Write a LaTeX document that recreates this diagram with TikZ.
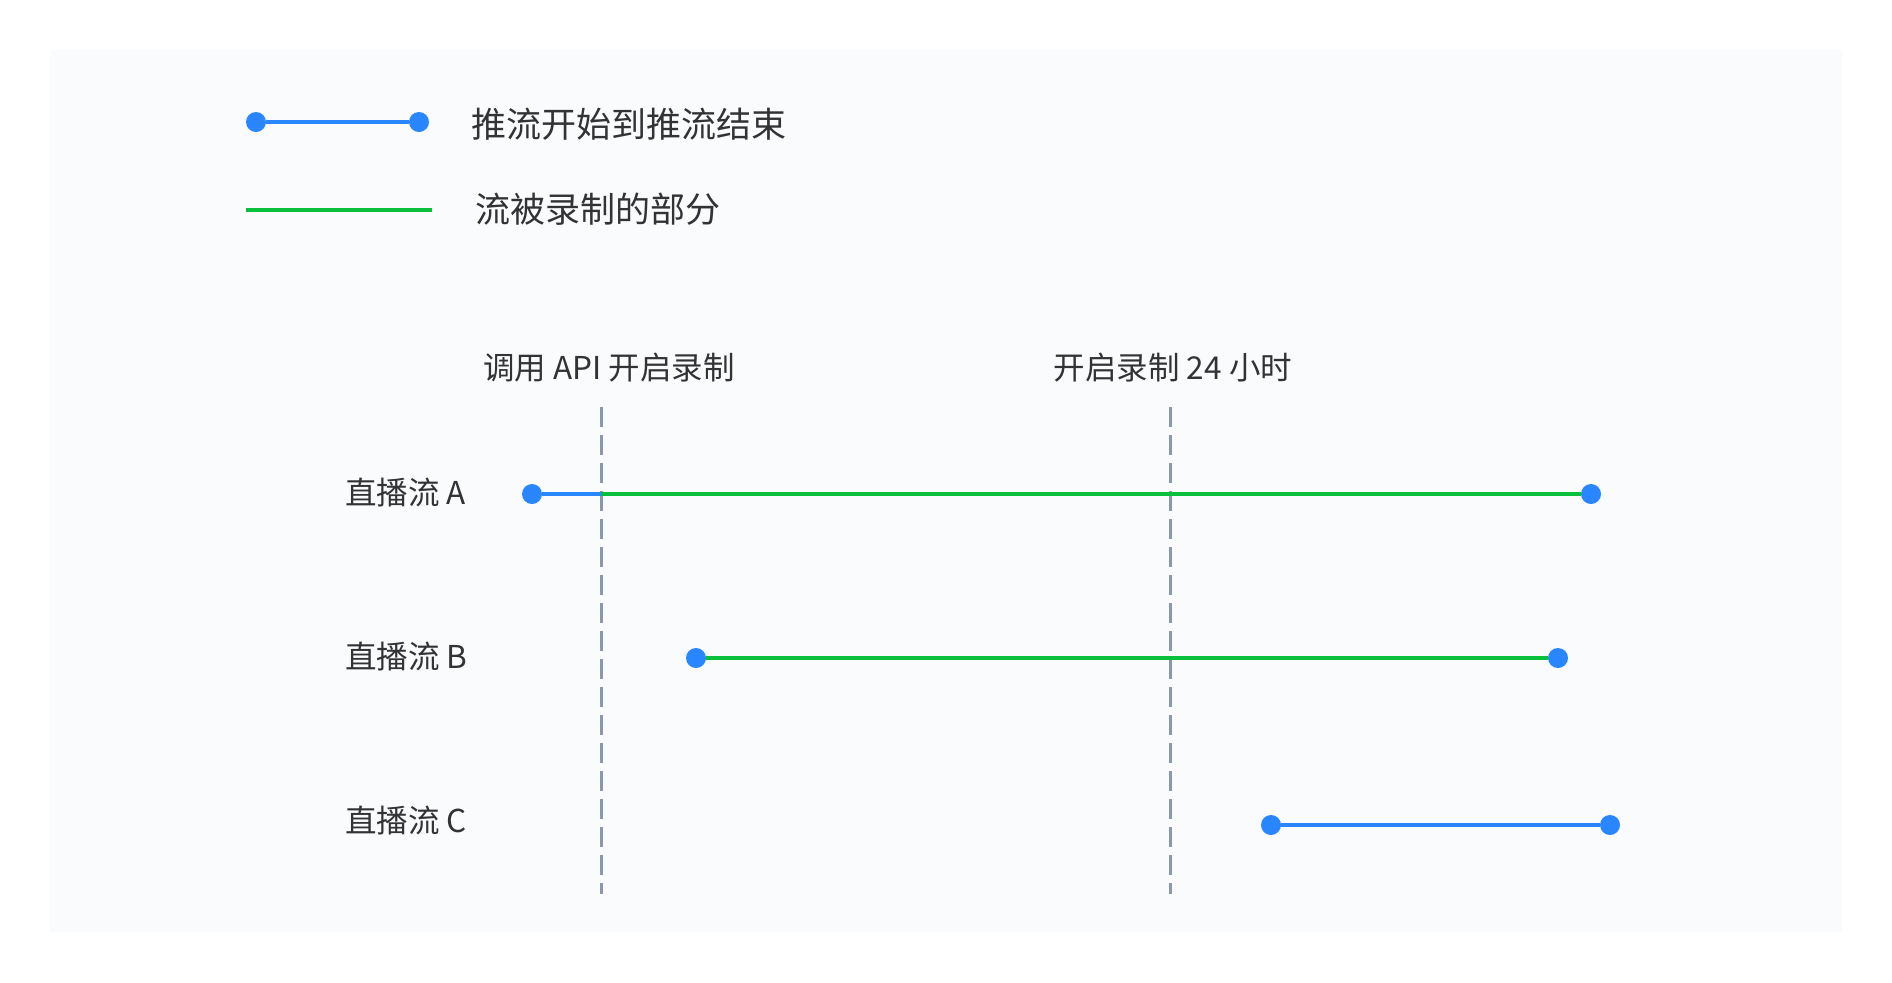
\documentclass[tikz,border=0pt]{standalone}
\usepackage{fontspec}
\setmainfont{Noto Sans CJK SC}
\usepackage{xcolor}
\usepackage{tikz}
\usetikzlibrary{positioning}

\definecolor{bgpanel}{HTML}{F9FBFD}
\definecolor{pushblue}{HTML}{2A86FF}
\definecolor{recgreen}{HTML}{08C03C}
\definecolor{cutgray}{HTML}{8A97AD}
\definecolor{txtgray}{HTML}{333333}

\tikzset{
  pushdot/.style={circle, fill=pushblue, inner sep=0pt, minimum size=10pt},
  pushline/.style={pushblue, line width=1.75pt},
  recline/.style={recgreen, line width=2pt},
  cutline/.style={cutgray, line width=1.5pt, dash pattern=on 10pt off 4pt},
  leglbl/.style={text=txtgray, font=\fontsize{17.5}{21}\selectfont, inner sep=0pt},
  lbl/.style={text=txtgray, font=\fontsize{15.75}{19}\selectfont, inner sep=0pt},
}

\begin{document}
\begin{tikzpicture}[x=0.5pt,y=-0.5pt]
\useasboundingbox (0,0) rectangle (1892,982);
\fill[bgpanel] (50,50) rectangle (1842,932);

% legend
\node[pushdot] (legA) at (256,122) {};
\node[pushdot] (legB) at (419,122) {};
\draw[pushline] (legA) -- (legB);
\node[leglbl, anchor=west] (legpush) at (471,124) {推流开始到推流结束};
\coordinate (legC) at (246,210);
\coordinate (legD) at (432,210);
\draw[recline] (legC) -- (legD);
\node[leglbl, anchor=west] (legrec) at (475,209) {流被录制的部分};

% cut lines
\coordinate (cutAtop) at (601,407);
\coordinate (cutAbot) at (601,894);
\coordinate (cutBtop) at (1170,407);
\coordinate (cutBbot) at (1170,894);
\draw[cutline] (cutAtop) -- (cutAbot);
\draw[cutline] (cutBtop) -- (cutBbot);
\node[lbl] (cutAlbl) at (609,368) {调用 API 开启录制};
\node[lbl] (cutBlbl) at (1173,368) {开启录制 24 小时};

% streams
\node[lbl, anchor=west] (rowA) at (345,493) {直播流 A};
\node[lbl, anchor=west] (rowB) at (345,657) {直播流 B};
\node[lbl, anchor=west] (rowC) at (345,821) {直播流 C};

\node[pushdot] (aS) at (532,494) {};
\node[pushdot] (aE) at (1591,494) {};
\coordinate (aRec) at (601,494);
\draw[pushline] (aS) -- (aE);
\draw[recline] (aRec) -- (aE);

\node[pushdot] (bS) at (696,658) {};
\node[pushdot] (bE) at (1558,658) {};
\draw[pushline] (bS) -- (bE);
\draw[recline] (bS) -- (bE);

\node[pushdot] (cS) at (1271,825) {};
\node[pushdot] (cE) at (1610,825) {};
\draw[pushline] (cS) -- (cE);
\end{tikzpicture}
\end{document}
